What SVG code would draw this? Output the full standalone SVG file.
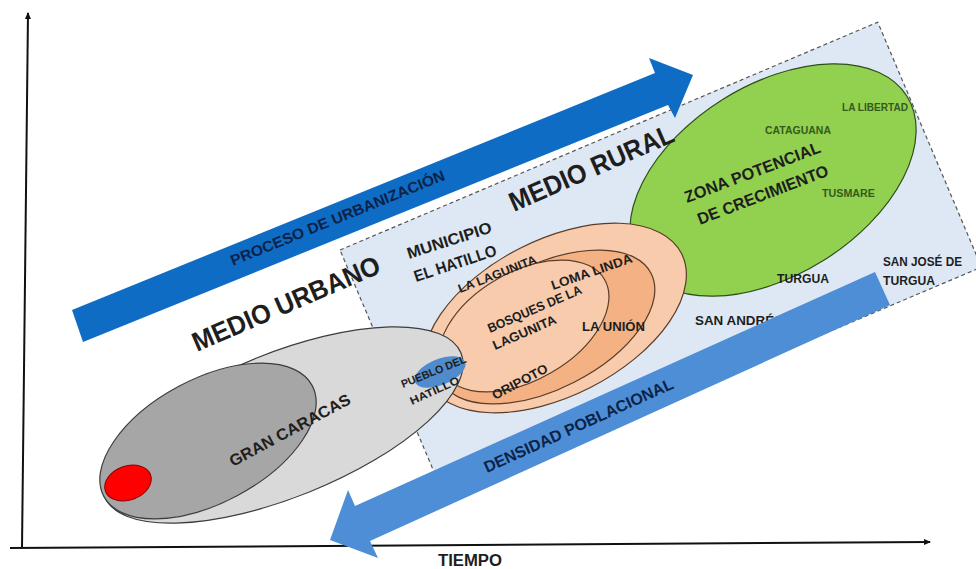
<svg xmlns="http://www.w3.org/2000/svg" width="976" height="569" viewBox="0 0 976 569">
<defs>
<marker id="ah" markerWidth="8" markerHeight="8" refX="6" refY="4" orient="auto" markerUnits="userSpaceOnUse">
<path d="M0,1 L7,4 L0,7 Z" fill="#111"/>
</marker>
<style>
.t{font-family:'Liberation Sans',Arial,sans-serif;font-weight:bold;fill:#1e1e1e}
.nav{fill:#0c2248}
.grn{fill:#365a1c}
.ol{stroke:#3d3d3d;stroke-width:1.2}
.or{stroke:#5a3d28;stroke-width:1.2}
</style>
</defs>
<rect width="976" height="569" fill="#fff"/>
<g id="connectors">
<line x1="22" y1="548" x2="28" y2="13" stroke="#111" stroke-width="2" marker-end="url(#ah)"/>
<line x1="10" y1="548" x2="930" y2="542" stroke="#111" stroke-width="2" marker-end="url(#ah)"/>
</g>
<g id="zona-rural">
<rect x="340" y="250" width="584" height="266" transform="rotate(-22.96 340 250)" fill="#dde8f4" stroke="#555" stroke-width="1.2" stroke-dasharray="4 3"/>
</g>
<g id="proceso-urbanizacion">
<polygon points="72,310 655,73 649,58 693,75 675,118 668,105 83,342" fill="#0f6cc4"/>
<text class="t nav" font-size="15" transform="translate(233,266) rotate(-22.1)" textLength="230" lengthAdjust="spacingAndGlyphs">PROCESO DE URBANIZACIÓN</text>
</g>
<g id="zona-potencial">
<ellipse cx="773" cy="180" rx="158" ry="95" transform="rotate(-32 773 180)" fill="#92d050" stroke="#2f4f1a" stroke-width="1.2"/>
</g>
<g id="municipio-hatillo">
<ellipse cx="555" cy="318" rx="142" ry="78" transform="rotate(-27 555 318)" fill="#f8cbad" class="or"/>
<ellipse cx="546" cy="327" rx="118" ry="62" transform="rotate(-27 546 327)" fill="#f4b183" class="or"/>
<ellipse cx="524" cy="326" rx="93" ry="54" transform="rotate(-30 524 326)" fill="#f8cbad" class="or"/>
</g>
<g id="gran-caracas">
<ellipse cx="283" cy="425" rx="192" ry="72" transform="rotate(-22 283 425)" fill="#d9d9d9" class="ol"/>
<ellipse cx="208" cy="441" rx="118" ry="62" transform="rotate(-28 208 441)" fill="#a6a6a6" class="ol"/>
<ellipse cx="128" cy="483" rx="24" ry="17" transform="rotate(-20 128 483)" fill="#ff0000" stroke="#8b0000" stroke-width="1"/>
</g>
<g id="pueblo-hatillo">
<ellipse cx="440" cy="372" rx="27" ry="13" transform="rotate(-22 440 372)" fill="#4f8bcd"/>
</g>
<g id="labels">
<text class="t" font-size="27" transform="translate(197,352) rotate(-23.3)" textLength="202" lengthAdjust="spacingAndGlyphs">MEDIO URBANO</text>
<text class="t" font-size="27" transform="translate(514,212) rotate(-23.7)" textLength="177" lengthAdjust="spacingAndGlyphs">MEDIO RURAL</text>
<text class="t" font-size="16" transform="translate(409,259) rotate(-17.8)" textLength="88" lengthAdjust="spacingAndGlyphs">MUNICIPIO</text>
<text class="t" font-size="16" transform="translate(416,282) rotate(-18.2)" textLength="86" lengthAdjust="spacingAndGlyphs">EL HATILLO</text>
<text class="t" font-size="12" transform="translate(460,293) rotate(-21.3)" textLength="83" lengthAdjust="spacingAndGlyphs">LA LAGUNITA</text>
<text class="t" font-size="13" transform="translate(553,290) rotate(-19.3)" textLength="85" lengthAdjust="spacingAndGlyphs">LOMA LINDA</text>
<text class="t" font-size="13" transform="translate(490,333) rotate(-23.3)" textLength="101" lengthAdjust="spacingAndGlyphs">BOSQUES DE LA</text>
<text class="t" font-size="13" transform="translate(495,350) rotate(-23.5)" textLength="68" lengthAdjust="spacingAndGlyphs">LAGUNITA</text>
<text class="t" font-size="13" x="582" y="331" textLength="63" lengthAdjust="spacingAndGlyphs">LA UNIÓN</text>
<text class="t" font-size="13" transform="translate(495,400) rotate(-28)" textLength="61" lengthAdjust="spacingAndGlyphs">ORIPOTO</text>
<text class="t" font-size="11" transform="translate(403,388) rotate(-22)" textLength="69" lengthAdjust="spacingAndGlyphs">PUEBLO DEL</text>
<text class="t" font-size="11" transform="translate(412,405) rotate(-24.6)" textLength="53" lengthAdjust="spacingAndGlyphs">HATILLO</text>
<text class="t" font-size="16" transform="translate(233,467) rotate(-28.3)" textLength="135" lengthAdjust="spacingAndGlyphs">GRAN CARACAS</text>
<text class="t" font-size="16.5" transform="translate(687,203) rotate(-20.7)" textLength="144" lengthAdjust="spacingAndGlyphs">ZONA POTENCIAL</text>
<text class="t" font-size="16.5" transform="translate(700,225) rotate(-21)" textLength="139" lengthAdjust="spacingAndGlyphs">DE CRECIMIENTO</text>
<text class="t grn" font-size="10" x="765" y="134" textLength="66" lengthAdjust="spacingAndGlyphs">CATAGUANA</text>
<text class="t grn" font-size="10" x="842" y="111" textLength="66" lengthAdjust="spacingAndGlyphs">LA LIBERTAD</text>
<text class="t grn" font-size="10.5" x="822" y="197" textLength="53" lengthAdjust="spacingAndGlyphs">TUSMARE</text>
<text class="t" font-size="12" x="777" y="283" textLength="52" lengthAdjust="spacingAndGlyphs">TURGUA</text>
<text class="t" font-size="12" x="883" y="266" textLength="79" lengthAdjust="spacingAndGlyphs">SAN JOSÉ DE</text>
<text class="t" font-size="12" x="883" y="285" textLength="52" lengthAdjust="spacingAndGlyphs">TURGUA</text>
<text class="t" font-size="13" x="695" y="325" textLength="88" lengthAdjust="spacingAndGlyphs">SAN ANDRÉS</text>
<text class="t" font-size="16" x="438" y="566" textLength="64" lengthAdjust="spacingAndGlyphs">TIEMPO</text>
</g>
<g id="densidad-poblacional">
<polygon points="875,272 890,305 370,541 378,558 330,540 348,490 355,506" fill="#4d8ed6"/>
<text class="t nav" font-size="16" transform="translate(487,473) rotate(-24.4)" textLength="206" lengthAdjust="spacingAndGlyphs">DENSIDAD POBLACIONAL</text>
</g>
</svg>
